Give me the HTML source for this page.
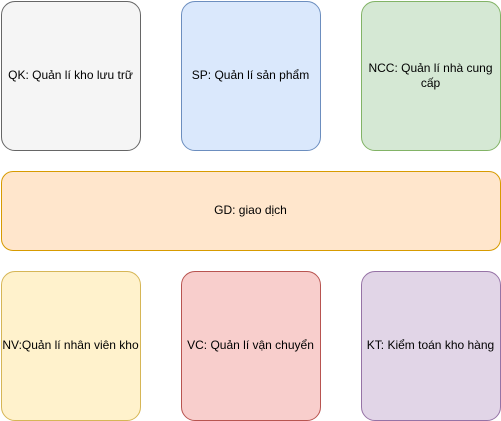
<!DOCTYPE html>
<html><head><meta charset="utf-8"><style>
body{margin:0;width:501px;height:421px;background:#fff;position:relative;overflow:hidden;font-family:"Liberation Sans",Arial,sans-serif;font-size:12px;color:#000}
.b{position:absolute;box-sizing:border-box;border:1px solid;border-radius:14px;display:flex;align-items:center;justify-content:center;text-align:center;line-height:15px;padding:0 4px}
</style></head><body>
<div class="b" style="left:0.5px;top:0.5px;width:140px;height:150px;background:#f5f5f5;border-color:#666666">QK: Quản lí kho lưu trữ</div>
<div class="b" style="left:180.5px;top:0.5px;width:140px;height:150px;background:#dae8fc;border-color:#6c8ebf">SP: Quản lí sản phẩm</div>
<div class="b" style="left:360.5px;top:0.5px;width:140px;height:150px;background:#d5e8d4;border-color:#82b366">NCC: Quản lí nhà cung cấp</div>
<div class="b" style="left:0.5px;top:170.5px;width:500px;height:80px;background:#ffe6cc;border-color:#d79b00;border-radius:12px">GD: giao dịch</div>
<div class="b" style="left:0.5px;top:270.5px;width:140px;height:150px;background:#fff2cc;border-color:#d6b656;padding:0">NV:Quản lí nhân viên kho</div>
<div class="b" style="left:180.5px;top:270.5px;width:140px;height:150px;background:#f8cecc;border-color:#b85450">VC: Quản lí vận chuyển</div>
<div class="b" style="left:360.5px;top:270.5px;width:140px;height:150px;background:#e1d5e7;border-color:#9673a6;padding:0">KT: Kiểm toán kho hàng</div>
</body></html>
